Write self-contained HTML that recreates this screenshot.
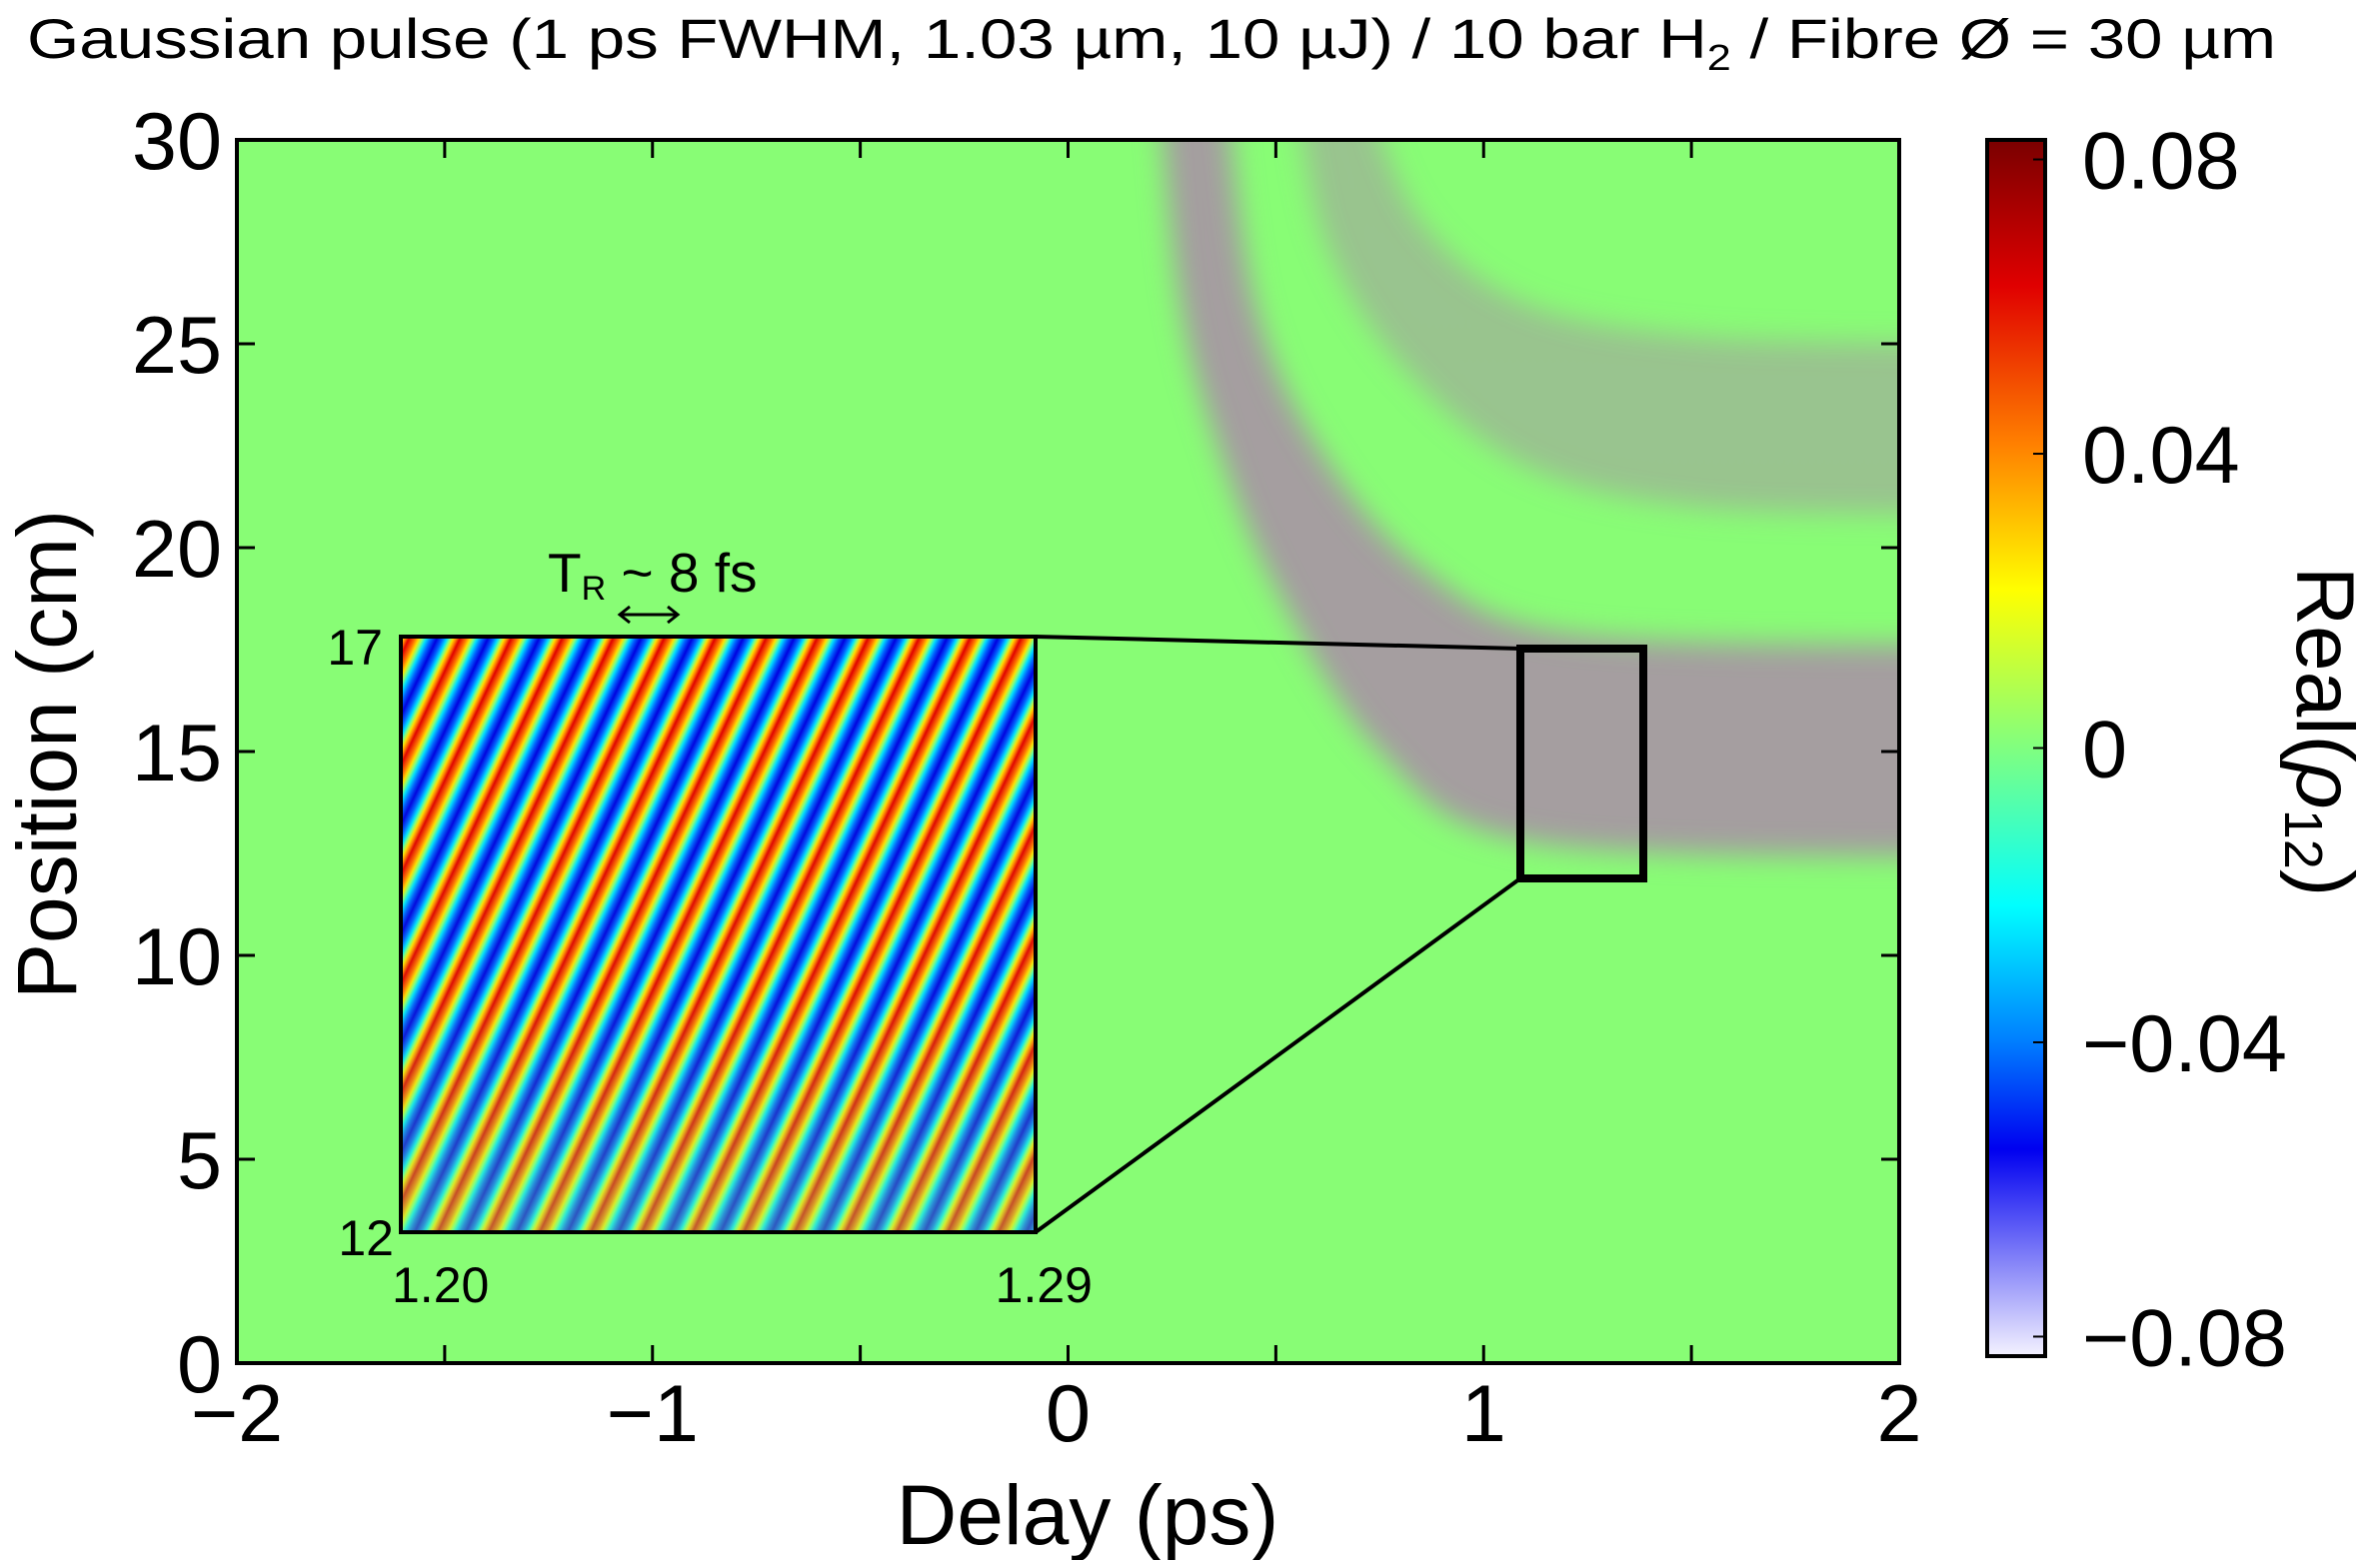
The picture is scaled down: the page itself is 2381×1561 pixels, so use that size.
<!DOCTYPE html>
<html><head><meta charset="utf-8"><style>
html,body{margin:0;padding:0;background:#fff;}
svg{display:block;font-family:"Liberation Sans",Arial,sans-serif;}
</style></head><body>
<svg id="chart" width="2381" height="1561" viewBox="0 0 2381 1561" xmlns="http://www.w3.org/2000/svg">
<defs>
  <linearGradient id="jet" x1="0" y1="0" x2="0" y2="1">
    <stop offset="0" stop-color="#7a0000"/>
    <stop offset="0.12" stop-color="#e00000"/>
    <stop offset="0.25" stop-color="#ff8000"/>
    <stop offset="0.37" stop-color="#ffff00"/>
    <stop offset="0.5" stop-color="#80ff80"/>
    <stop offset="0.63" stop-color="#00ffff"/>
    <stop offset="0.74" stop-color="#0080ff"/>
    <stop offset="0.83" stop-color="#0000f0"/>
    <stop offset="1" stop-color="#f4f2ff"/>
  </linearGradient>
  <linearGradient id="stripeGrad" x1="0" y1="0" x2="1" y2="0">
    <stop offset="0" stop-color="#e00000"/>
    <stop offset="0.12" stop-color="#ff7000"/>
    <stop offset="0.2" stop-color="#ffe000"/>
    <stop offset="0.27" stop-color="#80ff80"/>
    <stop offset="0.34" stop-color="#00e0ff"/>
    <stop offset="0.44" stop-color="#0060ff"/>
    <stop offset="0.55" stop-color="#0000e0"/>
    <stop offset="0.66" stop-color="#0060ff"/>
    <stop offset="0.75" stop-color="#00e0ff"/>
    <stop offset="0.81" stop-color="#80ff80"/>
    <stop offset="0.87" stop-color="#ffe000"/>
    <stop offset="0.94" stop-color="#ff7000"/>
    <stop offset="1" stop-color="#e00000"/>
  </linearGradient>
  <pattern id="insetPat" patternUnits="userSpaceOnUse" width="51" height="600" patternTransform="translate(401,0) skewX(-25)">
    <rect width="51" height="600" fill="url(#stripeGrad)"/>
  </pattern>
  <linearGradient id="fadeGrad" x1="0" y1="0" x2="0" y2="1">
    <stop offset="0" stop-color="#88ff80" stop-opacity="0"/>
    <stop offset="0.6" stop-color="#88ff80" stop-opacity="0.05"/>
    <stop offset="1" stop-color="#88ff80" stop-opacity="0.35"/>
  </linearGradient>
  <pattern id="bandPat" patternUnits="userSpaceOnUse" width="8" height="40" patternTransform="skewX(-20)">
    <rect x="0" y="0" width="2" height="40" fill="#e03020"/>
    <rect x="2" y="0" width="2" height="40" fill="#ffa000"/>
    <rect x="4" y="0" width="2" height="40" fill="#2040e0"/>
    <rect x="6" y="0" width="2" height="40" fill="#00b0ff"/>
  </pattern>
  <filter id="soft" filterUnits="userSpaceOnUse" x="0" y="0" width="2381" height="1561"><feGaussianBlur stdDeviation="14"/></filter>
  <clipPath id="plotClip"><rect x="237" y="140" width="1663" height="1224"/></clipPath>
</defs>

<text x="27" y="58" font-size="56" textLength="2250" lengthAdjust="spacingAndGlyphs">Gaussian pulse (1 ps FWHM, 1.03 µm, 10 µJ) / 10 bar H<tspan font-size="36" dy="12">2</tspan><tspan dy="-12">  / Fibre Ø = 30 µm</tspan></text>

<rect x="237" y="140" width="1663" height="1224" fill="#88fd75"/>
<g id="bands" clip-path="url(#plotClip)"></g>
<g id="axes"></g>

<g id="inset">
  <rect x="401" y="637" width="635" height="596" fill="url(#insetPat)"/>
  <rect x="401" y="637" width="635" height="596" fill="url(#fadeGrad)"/>
  <rect x="401" y="637" width="635" height="596" fill="none" stroke="#000" stroke-width="4"/>
  <line x1="1036" y1="637" x2="1521" y2="649" stroke="#000" stroke-width="4"/>
  <line x1="1036" y1="1233" x2="1521" y2="879" stroke="#000" stroke-width="4"/>
  <rect x="1521" y="649" width="123" height="230" fill="none" stroke="#000" stroke-width="8"/>
  <text x="383" y="665" font-size="50" text-anchor="end">17</text>
  <text x="394" y="1256" font-size="50" text-anchor="end">12</text>
  <text x="392" y="1303" font-size="50">1.20</text>
  <text x="1093" y="1303" font-size="50" text-anchor="end">1.29</text>
  <text x="548" y="592" font-size="55">T<tspan font-size="34" dy="8">R</tspan><tspan dy="-8"> ~ 8 fs</tspan></text>
  <g stroke="#000" stroke-width="3" fill="none">
    <line x1="620" y1="615" x2="678" y2="615"/>
    <polyline points="630,607 620,615 630,623"/>
    <polyline points="668,607 678,615 668,623"/>
  </g>
</g>

<g id="colorbar">
  <rect x="1988" y="140" width="58" height="1217" fill="url(#jet)" stroke="#000" stroke-width="4"/>
</g>
<text transform="translate(2298,732) rotate(90)" font-size="82" text-anchor="middle">Real(<tspan font-style="italic">ρ</tspan><tspan font-size="54" dy="12">12</tspan><tspan dy="-12">)</tspan></text>
<text x="1088" y="1545" font-size="84" text-anchor="middle">Delay (ps)</text>
<text transform="translate(76,755) rotate(-90)" font-size="84" text-anchor="middle">Position (cm)</text>

<script>
// Axis data
const xTicks = [-2, -1, 0, 1, 2];
const xTickLabels = ["\u22122", "\u22121", "0", "1", "2"];
const xMinor = [-1.5, -0.5, 0.5, 1.5];
const yTicks = [0, 5, 10, 15, 20, 25, 30];
const yTickLabels = ["0", "5", "10", "15", "20", "25", "30"];
const cbTicks = [0.08, 0.04, 0, -0.04, -0.08];
const cbTickLabels = ["0.08", "0.04", "0", "\u22120.04", "\u22120.08"];
// Band edges (delay ps, position cm)
const lowerInnerDelay = [0.38, 0.45, 0.60, 0.85, 1.20, 2.10];
const lowerInnerPos = [31, 26, 22.5, 19.5, 17.9, 17.6];
const lowerOuterDelay = [0.22, 0.27, 0.36, 0.50, 0.75, 1.10, 2.10];
const lowerOuterPos = [31, 26, 22.5, 19, 15, 12.8, 12.4];
const upperInnerDelay = [0.72, 0.85, 1.10, 1.50, 2.10];
const upperInnerPos = [31, 28, 26, 25.2, 25.0];
const upperOuterDelay = [0.55, 0.62, 0.80, 1.10, 1.50, 2.10];
const upperOuterPos = [31, 27.5, 24.5, 22, 21, 20.8];

const NS = "http://www.w3.org/2000/svg";
const X0 = 237, X1 = 1900, Y0 = 1364, Y1 = 140;
const xs = d => X0 + (d + 2) / 4 * (X1 - X0);
const ys = p => Y0 - p / 30 * (Y0 - Y1);
const cbs = v => 748.5 - v * 7362;
function mk(tag, attrs, parent) {
  const e = document.createElementNS(NS, tag);
  for (const k in attrs) e.setAttribute(k, attrs[k]);
  parent.appendChild(e);
  return e;
}
function smoothPts(dx, py, start) {
  const pts = dx.map((d, i) => [xs(d), ys(py[i])]);
  let s = (start ? "M" : "L") + pts[0][0] + "," + pts[0][1];
  for (let i = 0; i < pts.length - 1; i++) {
    const p0 = pts[Math.max(i - 1, 0)], p1 = pts[i], p2 = pts[i + 1], p3 = pts[Math.min(i + 2, pts.length - 1)];
    const c1 = [p1[0] + (p2[0] - p0[0]) / 6, p1[1] + (p2[1] - p0[1]) / 6];
    const c2 = [p2[0] - (p3[0] - p1[0]) / 6, p2[1] - (p3[1] - p1[1]) / 6];
    s += " C" + c1 + " " + c2 + " " + p2;
  }
  return s;
}
const bands = document.getElementById("bands");
function band(inD, inP, outD, outP, op, name) {
  const d = smoothPts(inD, inP, true) + " " +
    smoothPts(outD.slice().reverse(), outP.slice().reverse(), false) + " Z";
  const g = mk("g", {filter: "url(#soft)"}, bands);
  
  
  mk("path", {d: d, fill: "url(#bandPat)", opacity: op}, g);
}
band(upperInnerDelay, upperInnerPos, upperOuterDelay, upperOuterPos, 0.45, "upper-band");
band(lowerInnerDelay, lowerInnerPos, lowerOuterDelay, lowerOuterPos, 0.75, "lower-band");

const axes = document.getElementById("axes");
const frame = mk("rect", {x: X0, y: Y1, width: X1 - X0, height: Y0 - Y1, fill: "none", stroke: "#000", "stroke-width": 4}, axes);


xTicks.forEach((t, i) => {
  const x = xs(t);
  mk("line", {x1: x, y1: Y0, x2: x, y2: Y0 - 18, stroke: "#000", "stroke-width": 3}, axes);
  mk("line", {x1: x, y1: Y1, x2: x, y2: Y1 + 18, stroke: "#000", "stroke-width": 3}, axes);
  const tx = mk("text", {x: x, y: 1442, "font-size": 81, "text-anchor": "middle"}, axes);
  
  
  tx.textContent = xTickLabels[i];
});
xMinor.forEach(t => {
  const x = xs(t);
  mk("line", {x1: x, y1: Y0, x2: x, y2: Y0 - 18, stroke: "#000", "stroke-width": 3}, axes);
  mk("line", {x1: x, y1: Y1, x2: x, y2: Y1 + 18, stroke: "#000", "stroke-width": 3}, axes);
});
yTicks.forEach((t, i) => {
  const y = ys(t);
  mk("line", {x1: X0, y1: y, x2: X0 + 18, y2: y, stroke: "#000", "stroke-width": 3}, axes);
  mk("line", {x1: X1, y1: y, x2: X1 - 18, y2: y, stroke: "#000", "stroke-width": 3}, axes);
  const tx = mk("text", {x: 222, y: y + 29, "font-size": 81, "text-anchor": "end"}, axes);
  
  
  tx.textContent = yTickLabels[i];
});
const cb = document.getElementById("colorbar");
cbTicks.forEach((v, i) => {
  const y = cbs(v);
  mk("line", {x1: 2046, y1: y, x2: 2034, y2: y, stroke: "#000", "stroke-width": 2}, cb);
  const tx = mk("text", {x: 2083, y: y + 29, "font-size": 81}, cb);
  
  
  tx.textContent = cbTickLabels[i];
});
</script>
</svg>
</body></html>
